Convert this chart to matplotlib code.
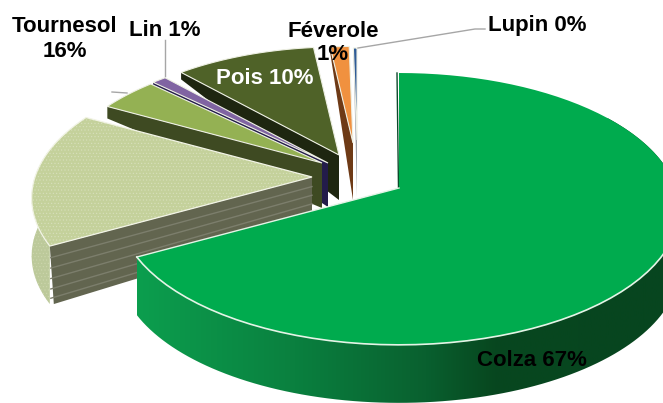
"""Exploded 3D-looking pie of crop shares, drawn on a pixel-sized axes."""
import matplotlib
matplotlib.use('Agg')
import matplotlib.pyplot as plt
import numpy as np
from matplotlib.colors import LinearSegmentedColormap
from matplotlib.patches import Polygon

# slices clockwise from 12 o'clock; the light green one has no label in the source
crops = ['Colza', 'Tournesol', 'Autre', 'Lin', 'Pois', 'Féverole', 'Lupin']
shares = [67, 16, 4.2, 1, 10, 1.5, 0.3]

# look of each slice: apex pixel, radius scale, wall height at apex / at rim
apex = [(399, 188), (312, 177), (322, 163), (328, 163), (339, 155), (353, 143), (357, 140)]
radius = [1.0, 1.0, 0.95, 0.97, 0.94, 0.84, 0.80]
wall_apex = [0, 0, 45, 44, 45, 57, 57]
wall_rim = [0, 0, 12, 9, 7, 6, 3]
top_col = ['#00ab4e', '#c4d19b', '#94b153', '#8064a2', '#4f6228', '#f0913f', '#2f5b96']
wall_col = ['#0a6a34', '#62654f', '#3e4a22', '#231c4a', '#1e2610', '#6e3a16', '#a0a4ac']

RX, RY, PERSP = 277, 132.7, 0.154
COLZA_DEPTH = 58

plt.rcParams['font.family'] = ['Liberation Sans', 'DejaVu Sans']
plt.rcParams['hatch.linewidth'] = 0.4


def rim(theta, center, r=1.0):
    """Perspective projection of a disc point; theta in degrees clockwise from top."""
    t = np.radians(theta)
    s = 1 / (1 + PERSP * np.cos(t))
    return center[0] + RX * r * np.sin(t) * s, center[1] - RY * r * np.cos(t) * s


def top_outline(t0, t1, center, r):
    ts = np.linspace(t0, t1, 80)
    xs, ys = rim(ts, center, r)
    return np.column_stack([np.append(xs, center[0]), np.append(ys, center[1])])


def side_wall(ax, theta, center, r, d_apex, d_rim, color, zorder):
    x, y = rim(theta, center, r)
    ax.add_patch(Polygon([(x, y), center, (center[0], center[1] + d_apex), (x, y + d_rim)],
                         facecolor=color, edgecolor='none', zorder=zorder))


fig = plt.figure(figsize=(6.63, 4.03), dpi=100)
ax = fig.add_axes([0, 0, 1, 1])
ax.axis('off')

edges = np.cumsum([0] + shares) * 3.6

# small slices, back to front
for i in [6, 5, 4, 3, 2]:
    z = 10 - i
    side_wall(ax, edges[i], apex[i], radius[i], wall_apex[i], wall_rim[i], wall_col[i], z)
    ax.add_patch(Polygon(top_outline(edges[i], edges[i + 1], apex[i], radius[i]),
                         facecolor=top_col[i], edgecolor='#eef0e4', linewidth=0.8, zorder=z))

# Tournesol: dotted top, rim wall on the far left, striped cut face
t0, t1 = edges[1], edges[2]
c = apex[1]
ts = np.linspace(t0, 285, 40)
xs, ys = rim(ts, c)
ax.add_patch(Polygon(np.column_stack([np.r_[xs, xs[::-1]], np.r_[ys, ys[::-1] + 58]]),
                     facecolor='#bcc99a', edgecolor='#cdd6ae', hatch='.....', linewidth=0, zorder=11))
lx, ly = rim(t0, c)
ax.add_patch(Polygon([(lx, ly), c, (c[0], c[1] + 48), (lx + 4, ly + 58)],
                     facecolor=wall_col[1], edgecolor='none', zorder=12))
for frac in [0.2, 0.38, 0.56, 0.74, 0.9]:
    ax.plot([lx + 1, c[0]], [ly + 58 * frac, c[1] + 48 * frac], color='#7c7e6c', lw=1.0, zorder=12)
ax.add_patch(Polygon(top_outline(t0, t1, c, 1.0), facecolor=top_col[1], edgecolor='#d8e0bd',
                     hatch='.....', linewidth=0, zorder=13))
ax.add_patch(Polygon(top_outline(t0, t1, c, 1.0), fill=False, edgecolor='#f2f4e6', linewidth=0.9, zorder=13))

# Colza: gradient rim wall under the big top face
t0, t1 = edges[0], edges[1]
c = apex[0]
ts = np.linspace(55, t1, 120)
xs, ys = rim(ts, c)
wall = Polygon(np.column_stack([np.r_[xs, xs[::-1]], np.r_[ys, ys[::-1] + COLZA_DEPTH]]),
               facecolor='none', edgecolor='none', zorder=14)
ax.add_patch(wall)
grad = LinearSegmentedColormap.from_list('wall', [(0, '#0c9e4e'), (0.3, '#0a803f'), (0.55, '#09602f'),
                                                   (0.68, '#07471f'), (1, '#07451f')])
img = ax.imshow(np.linspace(0, 1, 256)[None, :], cmap=grad, aspect='auto', extent=(137, 663, 403, 0), zorder=14)
img.set_clip_path(wall)
ax.plot([c[0] - 2, c[0] - 0.5], [73, c[1] + 1], color='#0b4a2a', lw=1, zorder=14)
ax.add_patch(Polygon(top_outline(t0, t1, c, 1.0), facecolor=top_col[0], edgecolor='none', zorder=15))
ax.plot(*top_outline(t1, t0, c, 1.0)[:45].T, color='#e4f4e6', lw=1.2, zorder=15)
ax.plot([rim(t1, c)[0], c[0]], [rim(t1, c)[1], c[1]], color='#e4f4e6', lw=1, zorder=15)

# leader lines
ax.plot([165, 165], [40, 76], color='#a6a6a6', lw=1, zorder=16)
ax.plot([112, 127], [92, 93], color='#a6a6a6', lw=1, zorder=16)
ax.plot([358, 475, 485], [48, 29, 29], color='#a6a6a6', lw=1, zorder=16)

# labels
font = dict(fontsize=16, fontweight='bold', ha='center', va='center', zorder=20)
ax.text(65, 39, f'{crops[1]}\n16%', linespacing=1.2, **font)
ax.text(165, 30, f'{crops[3]} 1%', **font)
ax.text(333, 43, f'{crops[5]}\n1%', linespacing=1.15, **font)
ax.text(537, 25, f'{crops[6]} 0%', **font)
ax.text(265, 79, f'{crops[4]} 10%', color='white', **font)
ax.text(532, 360, f'{crops[0]} 67%', **font)

ax.set_xlim(0, 663)
ax.set_ylim(403, 0)

fig.savefig('out.png', dpi=100)
plt.close(fig)
